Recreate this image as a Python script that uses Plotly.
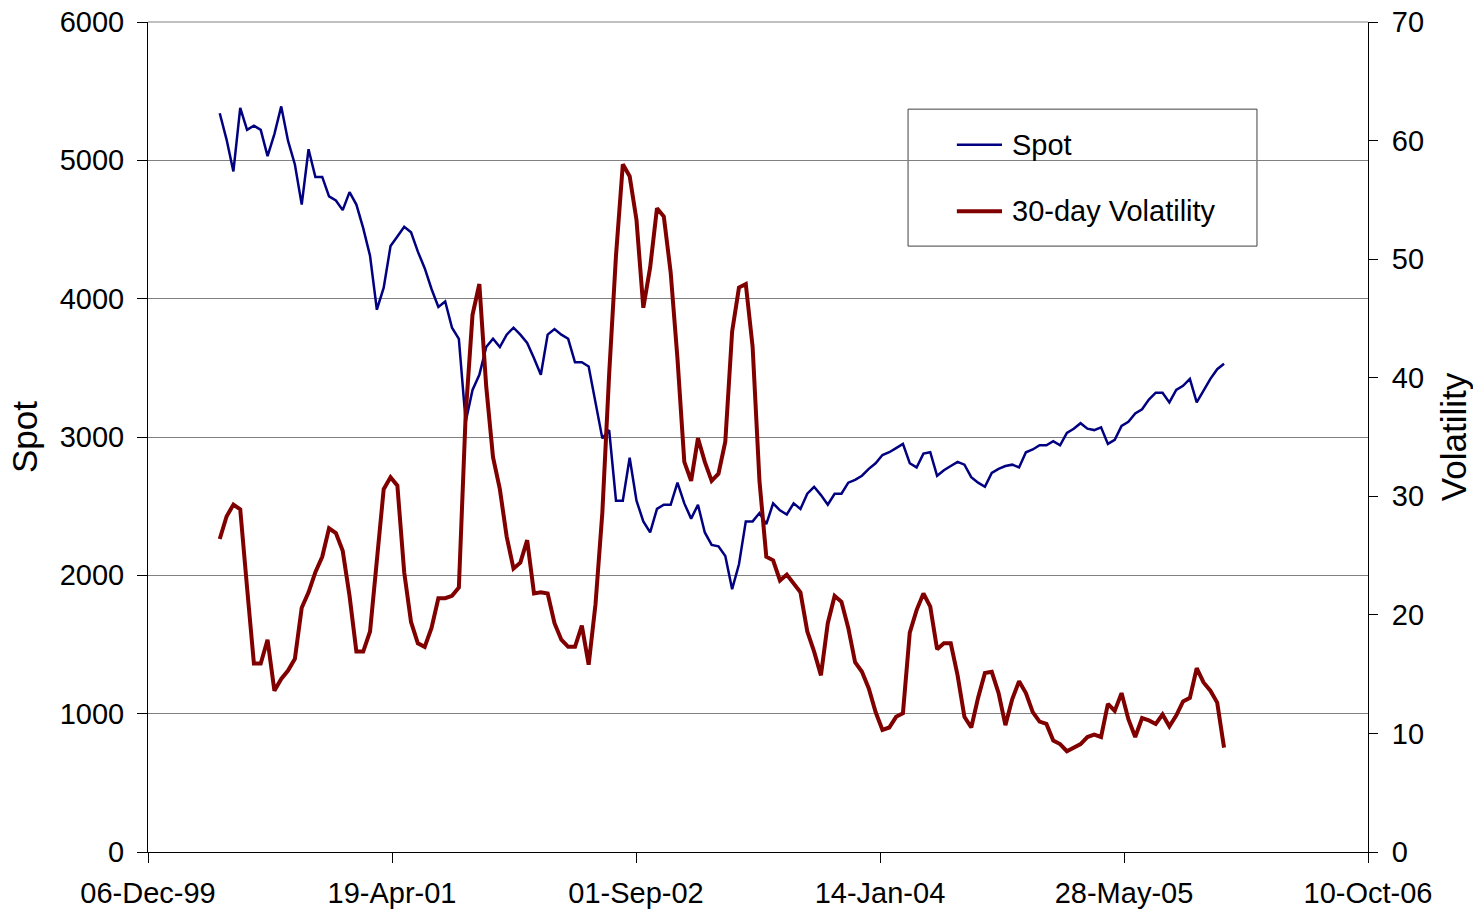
import plotly.graph_objects as go
import pandas as pd

# fortnightly readings, first one on 01-May-2000
spot = [5340, 5150, 4920, 5380, 5220, 5250, 5220, 5030, 5190, 5390,
        5140, 4970, 4680, 5080, 4880, 4880, 4740, 4710, 4640, 4770,
        4680, 4510, 4310, 3920, 4080, 4380, 4450, 4520, 4480, 4340,
        4220, 4070, 3940, 3980, 3790, 3710, 3110, 3340, 3450, 3650,
        3710, 3650, 3740, 3790, 3740, 3680, 3570, 3450, 3740, 3780,
        3740, 3710, 3540, 3540, 3510, 3250, 2990, 3050, 2540, 2540,
        2850, 2540, 2390, 2310, 2480, 2510, 2510, 2670, 2520, 2410,
        2510, 2310, 2220, 2210, 2140, 1900, 2080, 2390, 2390, 2450,
        2370, 2520, 2470, 2440, 2520, 2480, 2590, 2640, 2580, 2510,
        2590, 2590, 2670, 2690, 2720, 2770, 2810, 2870, 2890, 2920,
        2950, 2810, 2780, 2880, 2890, 2720, 2760, 2790, 2820, 2800,
        2710, 2670, 2640, 2740, 2770, 2790, 2800, 2780, 2890, 2910,
        2940, 2940, 2970, 2940, 3030, 3060, 3100, 3060, 3050, 3070,
        2950, 2980, 3080, 3110, 3170, 3200, 3270, 3320, 3320, 3250,
        3340, 3370, 3420, 3250, 3340, 3420, 3490, 3530]

vol = [26.4, 28.3, 29.3, 28.9, 22.3, 15.9, 15.9, 17.9, 13.6, 14.6,
       15.3, 16.3, 20.6, 21.9, 23.6, 24.9, 27.3, 26.9, 25.4, 21.6,
       16.9, 16.9, 18.6, 24.9, 30.6, 31.6, 30.9, 23.6, 19.4, 17.6,
       17.3, 18.9, 21.4, 21.4, 21.6, 22.3, 36.9, 45.3, 47.9, 39.3,
       33.3, 30.6, 26.6, 23.9, 24.4, 26.3, 21.8, 21.9, 21.8, 19.3,
       17.9, 17.3, 17.3, 19.1, 15.8, 20.9, 28.6, 40.3, 50.3, 58.0,
       57.0, 53.3, 45.9, 49.3, 54.3, 53.6, 48.9, 41.6, 32.9, 31.3,
       34.9, 32.9, 31.3, 31.9, 34.6, 43.9, 47.6, 47.9, 42.6, 31.3,
       24.9, 24.6, 22.9, 23.4, 22.6, 21.9, 18.6, 16.9, 14.9, 19.3,
       21.6, 21.1, 18.9, 16.0, 15.2, 13.8, 11.8, 10.3, 10.5, 11.4,
       11.7, 18.5, 20.4, 21.8, 20.7, 17.1, 17.6, 17.6, 14.9, 11.4,
       10.5, 13.0, 15.1, 15.2, 13.4, 10.7, 12.9, 14.4, 13.4, 11.8,
       11.0, 10.8, 9.4, 9.1, 8.5, 8.8, 9.1, 9.7, 9.9, 9.7,
       12.5, 11.9, 13.4, 11.2, 9.7, 11.3, 11.1, 10.8, 11.6, 10.6,
       11.5, 12.7, 13.0, 15.5, 14.3, 13.6, 12.6, 8.8]

dates = pd.date_range("2000-05-01", periods=len(spot), freq="14D")
tick_dates = ["1999-12-06", "2001-04-19", "2002-09-01",
              "2004-01-14", "2005-05-28", "2006-10-10"]

FONT = "Liberation Sans, Arial, sans-serif"
SPOT_COLOR = "#000080"
VOL_COLOR = "#800000"
GRID = "#808080"

fig = go.Figure()
fig.add_trace(go.Scatter(x=dates, y=spot, name="Spot", mode="lines",
                         line=dict(color=SPOT_COLOR, width=2.5), yaxis="y"))
fig.add_trace(go.Scatter(x=dates, y=vol, name="30-day Volatility", mode="lines",
                         line=dict(color=VOL_COLOR, width=4), yaxis="y2"))

fig.update_layout(
    width=1473, height=912,
    margin=dict(l=148, r=105, t=22, b=60, autoexpand=False),
    paper_bgcolor="white", plot_bgcolor="white",
    font=dict(family=FONT, size=29, color="black"),
    showlegend=False,
    xaxis=dict(type="date", range=["1999-12-06", "2006-10-10"],
               tickvals=tick_dates, tickformat="%d-%b-%y",
               ticks="outside", ticklen=10, tickcolor="black",
               showline=True, linecolor="black", linewidth=1,
               showgrid=False, zeroline=False, automargin=False,
               ticklabelstandoff=5, ticklabeloverflow="allow"),
    yaxis=dict(range=[0, 6000], tick0=0, dtick=1000,
               ticks="outside", ticklen=10, tickcolor="black",
               showline=True, linecolor="black", linewidth=1,
               showgrid=True, gridcolor=GRID, gridwidth=1,
               zeroline=False, ticklabelstandoff=7, automargin=False,
               ticklabeloverflow="allow",
               title=dict(text="Spot", standoff=11)),
    yaxis2=dict(range=[0, 70], tick0=0, dtick=10, overlaying="y", side="right",
                ticks="outside", ticklen=9, tickcolor="black",
                showline=True, linecolor="black", linewidth=1,
                showgrid=False, zeroline=False, ticklabelstandoff=8,
                automargin=False, ticklabeloverflow="allow",
                title=dict(text="Volatility", standoff=19)),
    yaxis3=dict(range=[0, 70], tick0=0, dtick=10, overlaying="y", side="right",
                ticks="inside", ticklen=8, tickcolor="black",
                showticklabels=False, showline=False, showgrid=False,
                zeroline=False, automargin=False),
)

# top gridline at 6000 (plotly skips the grid line on the plot edge)
fig.add_shape(type="line", xref="paper", yref="paper", x0=0, x1=1, y0=1, y1=1,
              layer="between", line=dict(color=GRID, width=1))

# legend box drawn by hand to match the boxed legend of the original
fig.add_shape(type="rect", xref="paper", yref="paper",
              x0=0.623, x1=0.909, y0=0.730, y1=0.895, layer="between",
              line=dict(color="#404040", width=1), fillcolor="white")
legend_items = [("Spot", SPOT_COLOR, 2.5, 0.852),
                ("30-day Volatility", VOL_COLOR, 4, 0.772)]
for label, color, width, ypos in legend_items:
    fig.add_shape(type="line", xref="paper", yref="paper",
                  x0=0.663, x1=0.700, y0=ypos, y1=ypos,
                  line=dict(color=color, width=width))
    fig.add_annotation(text=label, xref="paper", yref="paper",
                       x=0.7066, y=ypos, xanchor="left", yanchor="middle",
                       showarrow=False, font=dict(size=29))

# drop the default 8px body margin so the figure fills the window exactly
fig.write_html("out.html", config={"displayModeBar": False},
               post_script="document.body.style.margin='0';")
